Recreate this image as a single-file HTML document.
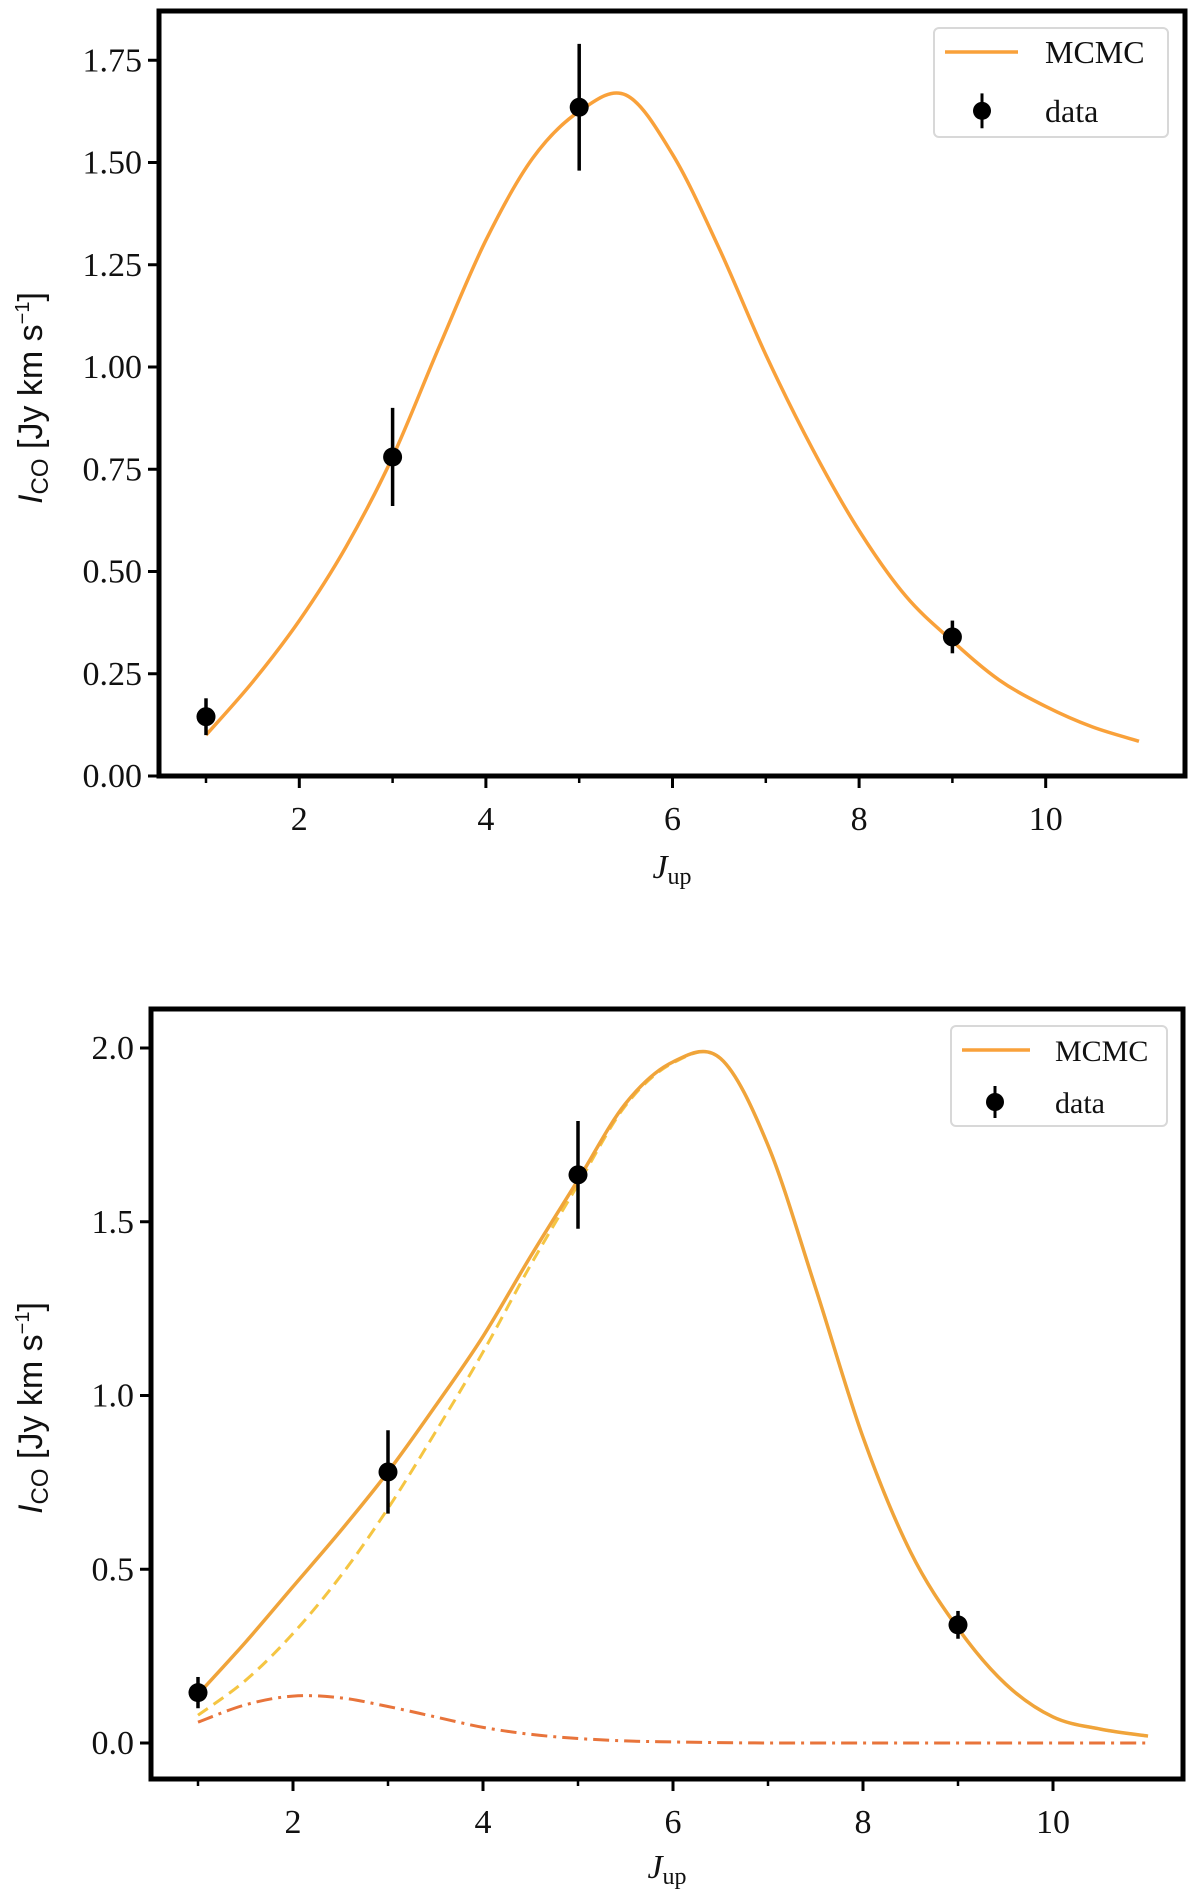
<!DOCTYPE html>
<html><head><meta charset="utf-8"><style>
html,body{margin:0;padding:0;background:#fff;}
svg{display:block;font-family:"Liberation Serif",serif;}
</style></head><body>
<svg id="chart" width="1200" height="1889" viewBox="0 0 1200 1889" xmlns="http://www.w3.org/2000/svg"></svg>
<script>
// ---- data ----
const dataX = [1, 3, 5, 9];
const dataY = [0.145, 0.78, 1.635, 0.34];
const dataErr = [0.045, 0.12, 0.155, 0.04];

const curveX = [1,1.5,2,2.5,3,3.5,4,4.5,5,5.5,6,6.5,7,7.5,8,8.5,9,9.5,10,10.5,11];
const topModel = [0.10,0.23,0.38,0.56,0.78,1.05,1.31,1.51,1.625,1.665,1.52,1.29,1.03,0.80,0.60,0.44,0.33,0.235,0.17,0.12,0.085];
const botTotal = [0.14,0.29,0.45,0.61,0.78,0.97,1.17,1.40,1.62,1.84,1.96,1.97,1.72,1.31,0.88,0.55,0.33,0.17,0.075,0.04,0.02];
const botDashed = [0.08,0.18,0.315,0.48,0.675,0.895,1.125,1.375,1.607,1.834,1.957,1.97,1.72,1.31,0.88,0.55,0.33,0.17,0.075,0.04,0.02];
const botDashDot = [0.06,0.11,0.135,0.13,0.105,0.075,0.045,0.025,0.013,0.006,0.003,0.001,0,0,0,0,0,0,0,0,0];

const topYTicks = [0,0.25,0.5,0.75,1.0,1.25,1.5,1.75];
const topYLabels = ["0.00","0.25","0.50","0.75","1.00","1.25","1.50","1.75"];
const botYTicks = [0,0.5,1.0,1.5,2.0];
const botYLabels = ["0.0","0.5","1.0","1.5","2.0"];
const xMajor = [2,4,6,8,10];
const xMinor = [1,3,5,7,9];

const NS = "http://www.w3.org/2000/svg";
const svg = document.getElementById('chart');
function mk(tag, attrs, parent){const e=document.createElementNS(NS,tag);for(const k in attrs)e.setAttribute(k,attrs[k]);(parent||svg).appendChild(e);return e;}

function smoothPath(xs, ys, sx, sy){
  const p = xs.map((x,i)=>[sx(x), sy(ys[i])]);
  let d = `M${p[0][0]},${p[0][1]}`;
  for(let i=0;i<p.length-1;i++){
    const p0=p[Math.max(0,i-1)],p1=p[i],p2=p[i+1],p3=p[Math.min(p.length-1,i+2)];
    const c1=[p1[0]+(p2[0]-p0[0])/6,p1[1]+(p2[1]-p0[1])/6];
    const c2=[p2[0]-(p3[0]-p1[0])/6,p2[1]-(p3[1]-p1[1])/6];
    d+=` C${c1[0]},${c1[1]} ${c2[0]},${c2[1]} ${p2[0]},${p2[1]}`;
  }
  return d;
}

function panel(cfg){
  const g = mk('g',{});
  
  
  const sx = x => cfg.x1px + (x-1)*cfg.xUnit;
  const sy = y => cfg.y0px - y*cfg.yUnit;
  cfg.yTicks.forEach((t,i)=>{
    const y=sy(t);
    const tk=mk('line',{x1:cfg.L-11,x2:cfg.L,y1:y,y2:y,stroke:'#000','stroke-width':3},g);
    
    
    const tx=mk('text',{x:cfg.L-17,y:y+11,'text-anchor':'end','font-size':34,fill:'#111'},g);
    tx.textContent=cfg.yLabels[i];
    
    
  });
  xMajor.forEach(t=>{
    const x=sx(t);
    const tk=mk('line',{x1:x,x2:x,y1:cfg.B,y2:cfg.B+12,stroke:'#000','stroke-width':3},g);
    
    
    const tx=mk('text',{x:x,y:cfg.B+54,'text-anchor':'middle','font-size':34,fill:'#111'},g);
    tx.textContent=String(t);
    
    
  });
  xMinor.forEach(t=>{
    const x=sx(t);
    const tk=mk('line',{x1:x,x2:x,y1:cfg.B,y2:cfg.B+7,stroke:'#000','stroke-width':2.5},g);
    
    
  });
  cfg.curves.forEach(c=>{
    const p=mk('path',{d:smoothPath(curveX,c.ys,sx,sy),fill:'none',stroke:c.color,'stroke-width':c.w,'stroke-dasharray':c.dash||'none'},g);
    
    
  });
  dataX.forEach((x,i)=>{
    const eb=mk('line',{x1:sx(x),x2:sx(x),y1:sy(dataY[i]-dataErr[i]),y2:sy(dataY[i]+dataErr[i]),stroke:'#000','stroke-width':3.5},g);
    
    
    const pt=mk('circle',{cx:sx(x),cy:sy(dataY[i]),r:9.5,fill:'#000'},g);
    
    
  });
  const fr=mk('rect',{x:cfg.L,y:cfg.T,width:cfg.R-cfg.L,height:cfg.B-cfg.T,fill:'none',stroke:'#000','stroke-width':5},g);
  
  
  const lg=cfg.leg;
  const lgG=mk('g',{},g);
  
  
  mk('rect',{x:lg.x,y:lg.y,width:lg.w,height:lg.h,rx:5,fill:'#fff',stroke:'#d8d8d8','stroke-width':2},lgG);
  const ll=mk('line',{x1:lg.x+11,x2:lg.x+lg.lineW+11,y1:lg.y+24,y2:lg.y+24,stroke:'#f9a13a','stroke-width':3.5},lgG);
  
  
  const t1=mk('text',{x:lg.tx,y:lg.y+35,'font-size':lg.fs,fill:'#111'},lgG);
  t1.textContent='MCMC';
  const mx=lg.x+lg.mx;
  mk('line',{x1:mx,x2:mx,y1:lg.y+lg.h*0.6,y2:lg.y+lg.h*0.92,stroke:'#000','stroke-width':3},lgG);
  const lm=mk('circle',{cx:mx,cy:lg.y+lg.h*0.76,r:9,fill:'#000'},lgG);
  
  
  const t2=mk('text',{x:lg.tx,y:lg.y+lg.h*0.76+11,'font-size':lg.fs,fill:'#111'},lgG);
  t2.textContent='data';
  const yl=mk('text',{transform:`translate(${cfg.ylx},${cfg.yly}) rotate(-90)`,'text-anchor':'middle','font-size':34,fill:'#111','font-family':'"Liberation Sans",sans-serif'},g);
  
  
  yl.innerHTML='<tspan font-style="italic">I</tspan><tspan font-size="24" dy="6">CO</tspan><tspan dy="-6"> [Jy km s</tspan><tspan font-size="20" dy="-13">−1</tspan><tspan dy="13">]</tspan>';
  const xl=mk('text',{x:(cfg.L+cfg.R)/2,y:cfg.xly,'text-anchor':'middle','font-size':34,fill:'#111'},g);
  
  
  xl.innerHTML='<tspan font-style="italic">J</tspan><tspan font-size="24" dy="6">up</tspan>';
}

panel({name:'top-panel',L:159,R:1185,T:11,B:776,x1px:206,xUnit:93.3,y0px:776,yUnit:409,
  yTicks:topYTicks,yLabels:topYLabels,
  curves:[{name:'mcmc-line',ys:topModel,color:'#f9a13a',w:3.5}],
  leg:{x:934,y:28,w:234,h:109,lineW:73,tx:1045,mx:48,fs:32},
  ylx:42,yly:398,xly:878});

panel({name:'bottom-panel',L:151,R:1183,T:1009,B:1779,x1px:198,xUnit:95,y0px:1743,yUnit:347.5,
  yTicks:botYTicks,yLabels:botYLabels,
  curves:[
    {name:'dashdot-component',ys:botDashDot,color:'#e8743b',w:3,dash:'16 6 3 6'},
    {name:'dashed-component',ys:botDashed,color:'#f5c542',w:3,dash:'12 7'},
    {name:'mcmc-total-line',ys:botTotal,color:'#f0a43a',w:3.5}
  ],
  leg:{x:951,y:1026,w:216,h:100,lineW:68,tx:1055,mx:44,fs:30},
  ylx:42,yly:1408,xly:1878});
</script>
</body></html>
